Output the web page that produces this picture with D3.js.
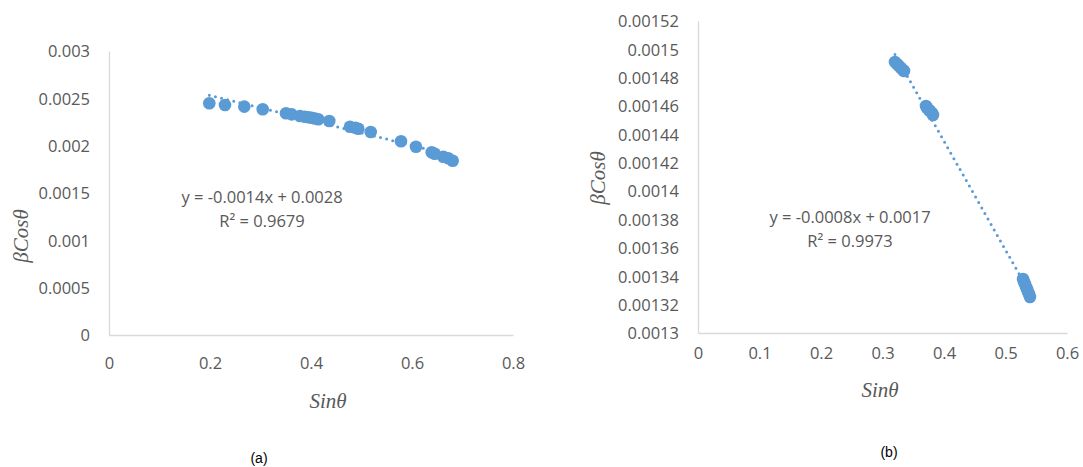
<!DOCTYPE html>
<html>
<head>
<meta charset="utf-8">
<script src="https://cdn.jsdelivr.net/npm/d3@7/dist/d3.min.js"></script>
<style>
  html, body { margin: 0; padding: 0; background: #fff; }
  svg { display: block; }
  .tick-label { font-family: "Open Sans", sans-serif; font-size: 16.5px; fill: #595959; }
  .eq { font-family: "Open Sans", sans-serif; font-size: 16.5px; fill: #595959; }
  .axis-title { font-family: "Liberation Serif", serif; font-style: italic; font-size: 21px; fill: #595959; }
  .caption { font-family: "Liberation Sans", Arial, sans-serif; font-size: 14px; fill: #000; }
</style>
</head>
<body>
<svg id="chart" width="1083" height="467"></svg>
<script>
// Panel (a): Williamson–Hall style points, sinθ vs βcosθ
const sinA = [0.1986, 0.2297, 0.2679, 0.3044, 0.3505, 0.3618, 0.3782, 0.3881, 0.3950, 0.4014,
              0.4080, 0.4145, 0.4362, 0.4772, 0.4880, 0.4937, 0.5182, 0.5782, 0.6079, 0.6390,
              0.6450, 0.6620, 0.6719, 0.6806];
const bcosA = [0.002448, 0.002430, 0.002412, 0.002384, 0.002342, 0.002331, 0.002313, 0.002306, 0.002300, 0.002295,
               0.002287, 0.002279, 0.002261, 0.002200, 0.002188, 0.002179, 0.002144, 0.002046, 0.001989, 0.001930,
               0.001915, 0.001883, 0.001867, 0.001841];
const xTicksA = [0, 0.2, 0.4, 0.6, 0.8];
const yTicksA = [0, 0.0005, 0.001, 0.0015, 0.002, 0.0025, 0.003];
const eqA = ["y = -0.0014x + 0.0028", "R² = 0.9679"];

// Panel (b)
const sinB = [0.3203, 0.3236, 0.3268, 0.3301, 0.3333, 0.3350,
              0.3707, 0.3724, 0.3756, 0.3772, 0.3805, 0.3821,
              0.5285, 0.5301, 0.5317, 0.5333, 0.5350, 0.5366, 0.5382, 0.5398];
const bcosB = [0.0014909, 0.0014895, 0.0014881, 0.0014867, 0.0014853, 0.0014846,
               0.0014599, 0.0014585, 0.0014571, 0.0014564, 0.0014550, 0.0014536,
               0.0013380, 0.0013359, 0.0013345, 0.0013324, 0.0013310, 0.0013289, 0.0013275, 0.0013254];
const xTicksB = [0, 0.1, 0.2, 0.3, 0.4, 0.5, 0.6];
const yTicksB = [0.0013, 0.00132, 0.00134, 0.00136, 0.00138, 0.0014, 0.00142, 0.00144, 0.00146, 0.00148, 0.0015, 0.00152];
const eqB = ["y = -0.0008x + 0.0017", "R² = 0.9973"];

const xTitle = "Sinθ";
const yTitle = "βCosθ";
const captions = ["(a)", "(b)"];

const BLUE = "#5B9BD5";
const AXIS = "#D9D9D9";

const svg = d3.select("#chart");

// least-squares linear fit
function linFit(xs, ys) {
  const n = xs.length;
  const mx = d3.mean(xs), my = d3.mean(ys);
  let sxy = 0, sxx = 0;
  for (let i = 0; i < n; i++) { sxy += (xs[i] - mx) * (ys[i] - my); sxx += (xs[i] - mx) ** 2; }
  const m = sxy / sxx;
  return { m, b: my - m * mx };
}

function fmt(v) {
  // Excel-style general number format: trim trailing zeros
  return String(+v.toPrecision(6));
}

function panel(cfg) {
  const g = svg.append("g");
  const x = d3.scaleLinear().domain(cfg.xDomain).range(cfg.xRange);
  const y = d3.scaleLinear().domain(cfg.yDomain).range(cfg.yRange);

  // axis lines (no tick marks)
  const xAxis = d3.axisBottom(x).tickValues(cfg.xTicks).tickSize(0).tickFormat(fmt);
  const yAxis = d3.axisLeft(y).tickValues(cfg.yTicks).tickSize(0).tickFormat(fmt);

  const gx = g.append("g").attr("transform", `translate(0,${cfg.yRange[0]})`).call(xAxis);
  const gy = g.append("g").attr("transform", `translate(${cfg.xRange[0]},0)`).call(yAxis);
  [gx, gy].forEach(a => {
    a.select(".domain").attr("stroke", AXIS).attr("stroke-width", 1.3);
    a.selectAll("text").attr("class", "tick-label").attr("fill", null).attr("font-family", null).attr("font-size", null);
  });
  gx.selectAll(".tick text").attr("dy", null).attr("y", cfg.xLabelDy);
  gy.selectAll(".tick text").attr("x", -cfg.yLabelGap).attr("dy", "0.36em");

  // dotted linear trendline over the data range
  const fit = linFit(cfg.xs, cfg.ys);
  const [x0, x1] = d3.extent(cfg.xs);
  g.append("line")
    .attr("x1", x(x0)).attr("y1", y(fit.m * x0 + fit.b))
    .attr("x2", x(x1)).attr("y2", y(fit.m * x1 + fit.b))
    .attr("stroke", BLUE).attr("stroke-width", 3)
    .attr("stroke-linecap", "round").attr("stroke-dasharray", "0,6.3");

  // markers
  g.append("g").selectAll("circle")
    .data(cfg.xs.map((v, i) => [v, cfg.ys[i]]))
    .join("circle")
    .attr("cx", d => x(d[0])).attr("cy", d => y(d[1]))
    .attr("r", 6.3).attr("fill", BLUE);

  // equation and R²
  g.append("text").attr("class", "eq").attr("text-anchor", "middle")
    .attr("x", cfg.eqPos[0]).attr("y", cfg.eqPos[1]).text(cfg.eq[0]);
  g.append("text").attr("class", "eq").attr("text-anchor", "middle")
    .attr("x", cfg.eqPos[0]).attr("y", cfg.eqPos[1] + 23.5).text(cfg.eq[1]);

  // axis titles
  g.append("text").attr("class", "axis-title").attr("text-anchor", "middle")
    .attr("x", cfg.xTitlePos[0]).attr("y", cfg.xTitlePos[1]).text(xTitle);
  g.append("text").attr("class", "axis-title").attr("text-anchor", "middle")
    .attr("transform", `translate(${cfg.yTitlePos[0]},${cfg.yTitlePos[1]}) rotate(-90)`)
    .attr("dy", "0.35em").text(yTitle);

  // caption
  g.append("text").attr("class", "caption").attr("text-anchor", "middle")
    .attr("x", cfg.capPos[0]).attr("y", cfg.capPos[1]).text(cfg.caption);
}

panel({
  xs: sinA, ys: bcosA, xTicks: xTicksA, yTicks: yTicksA, eq: eqA, caption: captions[0],
  xDomain: [0, 0.8], xRange: [109, 513],
  yDomain: [0, 0.003], yRange: [335, 51],
  xLabelDy: 34, yLabelGap: 19,
  eqPos: [262, 203],
  xTitlePos: [328, 408], yTitlePos: [21, 236],
  capPos: [259, 463]
});

panel({
  xs: sinB, ys: bcosB, xTicks: xTicksB, yTicks: yTicksB, eq: eqB, caption: captions[1],
  xDomain: [0, 0.6], xRange: [698, 1067],
  yDomain: [0.0013, 0.00152], yRange: [333, 20.7],
  xLabelDy: 26, yLabelGap: 19,
  eqPos: [850, 223],
  xTitlePos: [880, 397], yTitlePos: [598, 178],
  capPos: [889, 457]
});
</script>
</body>
</html>
